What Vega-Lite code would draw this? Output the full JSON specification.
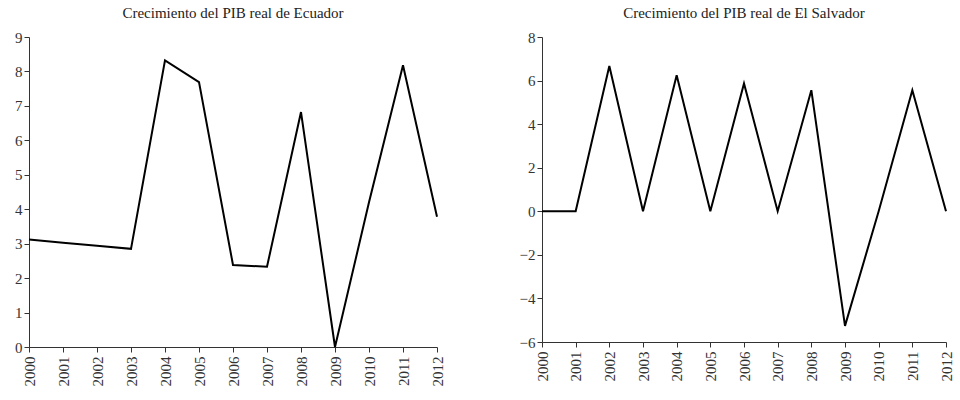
{
  "$schema": "https://vega.github.io/schema/vega-lite/v6.json",
  "background": "white",
  "padding": {"left": 14, "top": 6, "right": 5, "bottom": 0},
  "spacing": 74,
  "datasets": {
    "ecuador": [
      {"year": "2000", "value": 3.12},
      {"year": "2001", "value": 3.03},
      {"year": "2002", "value": 2.94},
      {"year": "2003", "value": 2.85},
      {"year": "2004", "value": 8.32},
      {"year": "2005", "value": 7.69},
      {"year": "2006", "value": 2.38},
      {"year": "2007", "value": 2.33},
      {"year": "2008", "value": 6.82},
      {"year": "2009", "value": 0.0},
      {"year": "2010", "value": 4.2},
      {"year": "2011", "value": 8.18},
      {"year": "2012", "value": 3.78}
    ],
    "salvador": [
      {"year": "2000", "value": 0.0},
      {"year": "2001", "value": 0.0},
      {"year": "2002", "value": 6.67},
      {"year": "2003", "value": 0.0},
      {"year": "2004", "value": 6.24},
      {"year": "2005", "value": 0.0},
      {"year": "2006", "value": 5.87},
      {"year": "2007", "value": 0.0},
      {"year": "2008", "value": 5.56},
      {"year": "2009", "value": -5.26},
      {"year": "2010", "value": 0.0},
      {"year": "2011", "value": 5.56},
      {"year": "2012", "value": 0.0}
    ]
  },
  "config": {
    "font": "Liberation Serif",
    "view": {"stroke": null},
    "title": {"fontSize": 15, "fontWeight": "normal", "color": "#222", "offset": 9},
    "axis": {
      "grid": false,
      "domainColor": "#333",
      "tickColor": "#333",
      "labelColor": "#333",
      "labelFontSize": 15,
      "title": null,
      "tickSize": 5
    }
  },
  "hconcat": [
    {
      "title": "Crecimiento del PIB real de Ecuador",
      "width": 408,
      "height": 310,
      "data": {"name": "ecuador"},
      "mark": {"type": "line", "color": "black", "strokeWidth": 2},
      "encoding": {
        "x": {
          "field": "year", "type": "ordinal",
          "scale": {"type": "point", "padding": 0},
          "axis": {"labelAngle": -90, "labelPadding": 4}
        },
        "y": {
          "field": "value", "type": "quantitative",
          "scale": {"domain": [0, 9], "nice": false, "zero": false},
          "axis": {"values": [0, 1, 2, 3, 4, 5, 6, 7, 8, 9]}
        }
      }
    },
    {
      "title": "Crecimiento del PIB real de El Salvador",
      "width": 404,
      "height": 305,
      "data": {"name": "salvador"},
      "mark": {"type": "line", "color": "black", "strokeWidth": 2},
      "encoding": {
        "x": {
          "field": "year", "type": "ordinal",
          "scale": {"type": "point", "padding": 0},
          "axis": {"labelAngle": -90, "labelPadding": 4}
        },
        "y": {
          "field": "value", "type": "quantitative",
          "scale": {"domain": [-6, 8], "nice": false, "zero": false},
          "axis": {"values": [-6, -4, -2, 0, 2, 4, 6, 8]}
        }
      }
    }
  ]
}
